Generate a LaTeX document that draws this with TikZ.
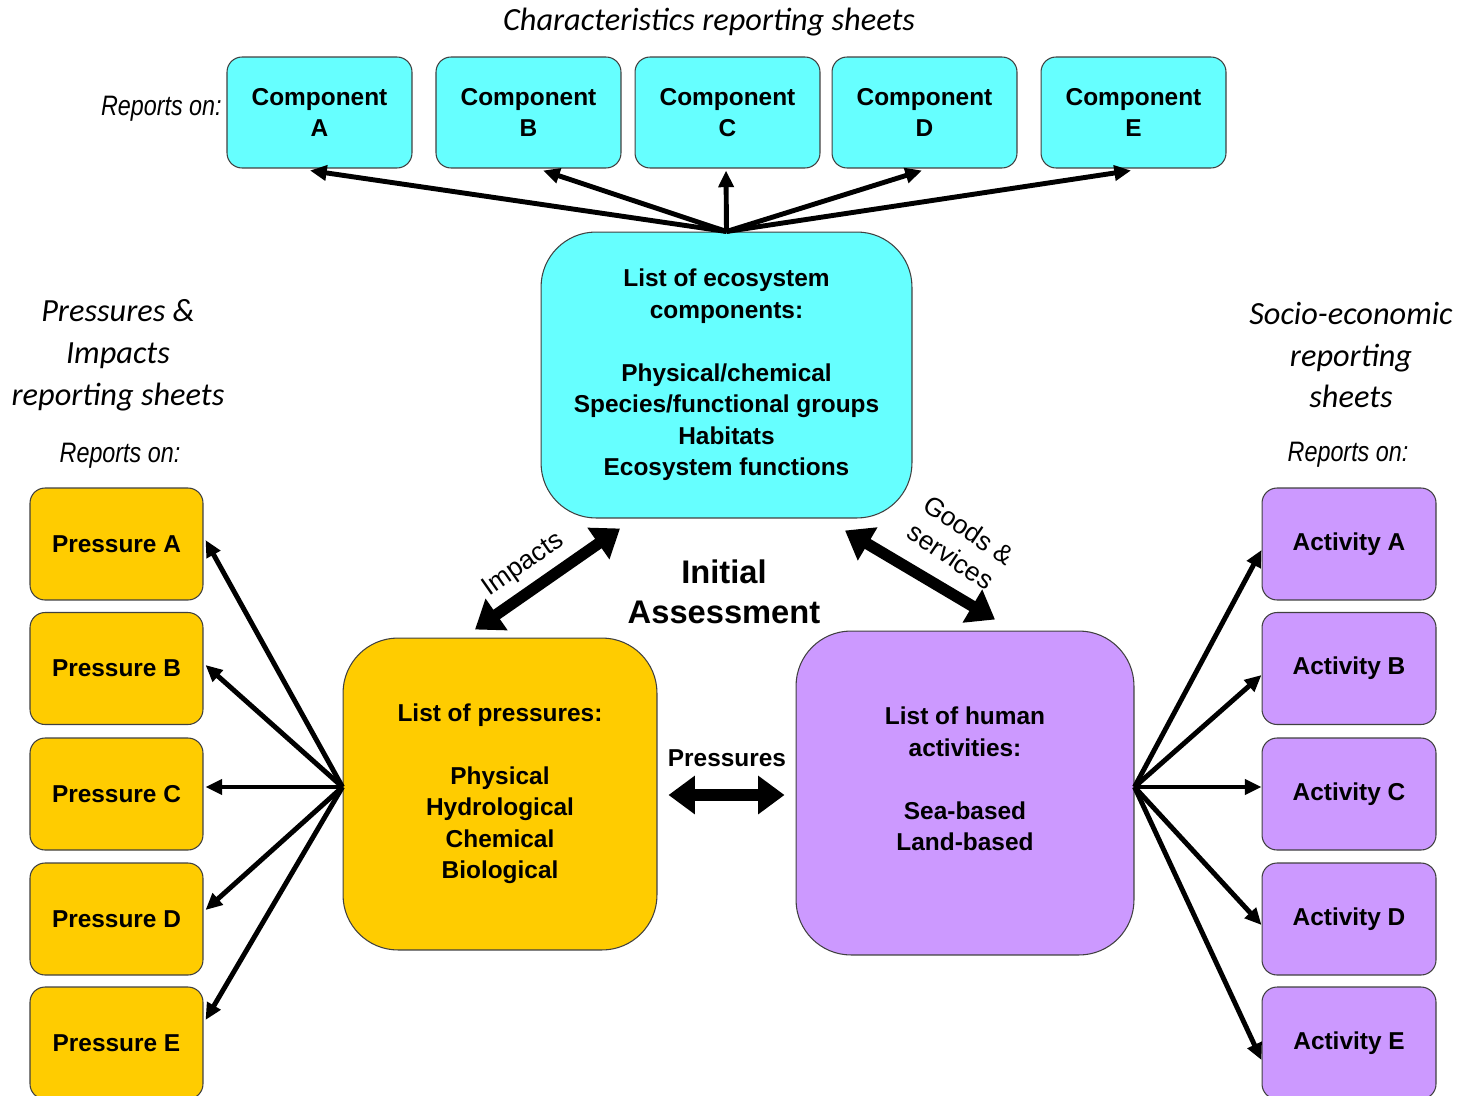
\documentclass[tikz,border=0pt]{standalone}
\usepackage{fontspec}
\setmainfont{Liberation Sans}
\newfontfamily\calib{Carlito}
\newfontfamily\narrowf{Liberation Sans}[FakeStretch=0.83]
\usetikzlibrary{arrows.meta,calc}
\definecolor{cyanbox}{HTML}{66FFFF}
\definecolor{yelbox}{HTML}{FFCC00}
\definecolor{purbox}{HTML}{CC99FF}
\definecolor{edge}{HTML}{404040}
\begin{document}
\begin{tikzpicture}[x=0.02cm,y=-0.02cm,
  box/.style={draw=edge, line width=0.6pt, rounded corners=0.3cm, inner sep=0pt, align=center,
    font=\bfseries\fontsize{13.9}{17.9}\selectfont},
  comp/.style={box, fill=cyanbox, minimum width=3.7cm, minimum height=2.22cm},
  pres/.style={box, fill=yelbox, minimum width=3.46cm, minimum height=2.24cm},
  act/.style={box, fill=purbox, minimum width=3.48cm, minimum height=2.24cm},
  bigbox/.style={box, rounded corners=1.1cm},
  btext/.style={inner sep=0pt, align=center, font=\bfseries\fontsize{13.9}{17.9}\selectfont},
  title/.style={inner sep=0pt, align=center, font=\calib\itshape\fontsize{18.4}{23.8}\selectfont},
  rep/.style={inner sep=0pt, font=\narrowf\itshape\fontsize{16}{19}\selectfont},
  fan/.style={line width=2.8pt, -{Triangle[length=9.5pt,width=8.5pt]}},
  big/.style={line width=6.5pt, {Triangle[length=15pt,width=21pt]}-{Triangle[length=15pt,width=21pt]}},
  lab/.style={inner sep=0pt, align=center, font=\fontsize{15}{18}\selectfont}]
\useasboundingbox (0,0) rectangle (1469,1095);
\begin{scope}
\clip (0,0) rectangle (1469,1095);

% titles
\node[title] (t1) at (709,22) {Characteristics reporting sheets};
\node[title] (t2) at (118,355) {Pressures \&\\Impacts\\reporting sheets};
\node[title] (t3) at (1351,355) {Socio-economic\\reporting\\sheets};
\node[rep, anchor=east] (r1) at (222,109) {Reports on:};
\node[rep] (r2) at (120,456) {Reports on:};
\node[rep] (r3) at (1348,455) {Reports on:};

% components
\node[comp] (cA) at (319.5,112.5) {Component\\A};
\node[comp] (cB) at (528.5,112.5) {Component\\B};
\node[comp] (cC) at (727.5,112.5) {Component\\C};
\node[comp] (cD) at (924.5,112.5) {Component\\D};
\node[comp] (cE) at (1133.5,112.5) {Component\\E};

% ecosystem
\node[bigbox, fill=cyanbox, minimum width=7.42cm, minimum height=5.72cm] (eco) at (726.5,375)
  {List of ecosystem\\components:\\[17.9pt]Physical/chemical\\Species/functional groups\\Habitats\\Ecosystem functions};

% pressures
\node[pres] (pA) at (116.5,544) {Pressure A};
\node[pres] (pB) at (116.5,668.5) {Pressure B};
\node[pres] (pC) at (116.5,794) {Pressure C};
\node[pres] (pD) at (116.5,919) {Pressure D};
\node[pres] (pE) at (116.5,1043) {Pressure E};

% activities
\node[act] (aA) at (1349,544) {Activity A};
\node[act] (aB) at (1349,668.5) {Activity B};
\node[act] (aC) at (1349,794) {Activity C};
\node[act] (aD) at (1349,919) {Activity D};
\node[act] (aE) at (1349,1043) {Activity E};

% central lists
\node[bigbox, fill=yelbox, minimum width=6.28cm, minimum height=6.24cm] (plist) at (500,794)
  {List of pressures:\\[17.9pt]Physical\\Hydrological\\Chemical\\Biological};
\node[bigbox, fill=purbox, minimum width=6.76cm, minimum height=6.48cm] (hlist) at (965,793) {};
\node[btext] (htext) at (965,779) {List of human\\activities:\\[17.9pt]Sea-based\\Land-based};

\node[inner sep=0pt, align=center, font=\bfseries\fontsize{18.6}{22.7}\selectfont] (ia) at (724,592) {Initial\\Assessment};
\node[btext] (plab) at (727,758) {Pressures};

% top fan
\foreach \n/\dx in {cA/-9.5, cB/14.5, cC/-1.5, cD/-2.5, cE/-2.5}
  \draw[fan] (eco.north) -- ($(\n.south)+(\dx,2)$);

% left fan
\coordinate (po) at ($(plist.west)+(0,-7)$);
\draw[fan] (po) -- ($(pA.east)+(2,-4)$);
\draw[fan] (po) -- ($(pB.east)+(2,-3.5)$);
\draw[fan] (po) -- ($(pC.east)+(2,-7)$);
\draw[fan] (po) -- ($(pD.east)+(2,-9)$);
\draw[fan] (po) -- ($(pE.east)+(2,-23)$);

% right fan
\coordinate (ho) at ($(hlist.east)+(0,-6)$);
\draw[fan] (ho) -- ($(aA.west)+(0,6)$);
\draw[fan] (ho) -- ($(aB.west)+(0,6.5)$);
\draw[fan] (ho) -- ($(aC.west)+(0,-7)$);
\draw[fan] (ho) -- ($(aD.west)+(0,6)$);
\draw[fan] (ho) -- ($(aE.west)+(0,17)$);

% big double arrows
\draw[big] ($(plist.north)+(-25,-8)$) -- ($(eco.south)+(-106.5,10)$);
\draw[big] ($(eco.south)+(118.5,12)$) -- ($(hlist.north)+(30,-11)$);
\draw[big] ($(plist.east)+(11,1)$) -- ($(hlist.west)+(-11,2)$);

\node[lab, rotate=35] (impl) at (524,565) {Impacts};
\node[lab, rotate=-34] (gsl) at (960,543) {Goods \&\\services};
\end{scope}
\end{tikzpicture}
\end{document}
